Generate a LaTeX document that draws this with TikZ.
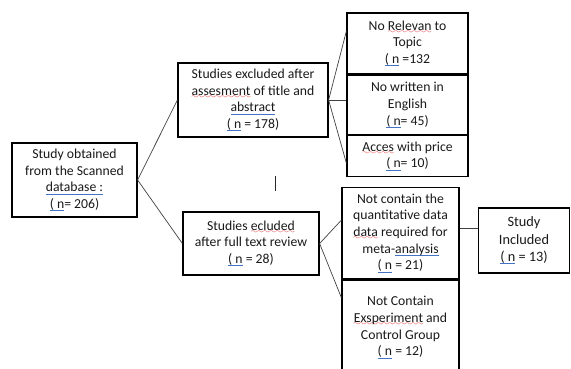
\documentclass[tikz,border=0pt]{standalone}
\usepackage{fontspec}
\setmainfont{Carlito}
\usetikzlibrary{calc}
\definecolor{ulblue}{RGB}{68,114,196}
\definecolor{wavered}{RGB}{230,20,20}
\font\mywavefont=lasy6 scaled 1150
\newlength\ulw
\newcommand\bl[1]{\settowidth\ulw{#1}\rlap{\textcolor{ulblue}{\rule[-2.6pt]{\ulw}{0.9pt}}}#1}
\newcommand\rw[1]{\settowidth\ulw{#1}\rlap{\hbox to \ulw{\color{wavered}\xleaders\hbox{\lower3.4pt\hbox{\mywavefont\char58}}\hfill}}#1}
\tikzset{
  boxnode/.style={draw=black, line width=1.2pt, inner sep=0pt, align=center,
    font=\fontsize{13.7}{16.7}\selectfont, text=black!90},
  link/.style={draw=black!75, line width=0.7pt}
}
\begin{document}
\begin{tikzpicture}[x=1pt,y=-1pt]
\useasboundingbox (0,0) rectangle (571,369);
\node[boxnode, minimum width=125pt, minimum height=74pt] (A) at (74.5,180)
  {Study obtained\\from the Scanned\\\bl{database :}\\\bl{( n}= 206)};
\node[boxnode, minimum width=150pt, minimum height=74pt] (B) at (253,100)
  {Studies excluded after\\\rw{assesment} of title and\\\bl{abstract}\\\bl{( n} = 178)};
\node[boxnode, minimum width=136pt, minimum height=63pt] (C) at (251,243.5)
  {Studies \rw{ecluded}\\after full text review\\\bl{( n} = 28)};
\node[boxnode, minimum width=121pt, minimum height=61pt] (D1) at (407.5,43.5)
  {No \rw{Relevan} to\\Topic\\\bl{( n} =132};
\node[boxnode, minimum width=121pt, minimum height=59pt] (D2) at (407.5,105)
  {No written in\\English\\\bl{( n}= 45)};
\node[boxnode, minimum width=121pt, minimum height=41pt] (D3) at (407.5,156)
  {\rw{Acces} with price\\\bl{( n}= 10)};
\node[boxnode, minimum width=117pt, minimum height=91pt] (E1) at (400.5,233)
  {Not contain the\\quantitative data\\\rw{data} required for\\meta-\bl{analysis}\\\bl{( n} = 21)};
\node[boxnode, minimum width=117pt, minimum height=95pt] (E2) at (400.5,327.5)
  {Not Contain\\\rw{Exsperiment} and\\Control Group\\\bl{( n} = 12)};
\node[boxnode, minimum width=91pt, minimum height=65pt,
  font=\fontsize{14.3}{17.5}\selectfont] (F) at (524,240.5)
  {Study\\Included\\\bl{( n} = 13)};
% connectors
\draw[link] (A.east) -- (B.west);
\draw[link] (A.east) -- (C.west);
\draw[link] (B.east) -- ($(D1.north west)!0.3!(D1.south west)$);
\draw[link] (B.east) -- (B.east -| D2.west);
\draw[link] (B.east) -- ($(D3.north west)!0.67!(D3.south west)$);
\draw[link] (C.east) -- ($(E1.north west)!0.36!(E1.south west)$);
\draw[link] (C.east) -- ($(E2.north west)!0.19!(E2.south west)$);
\coordinate (e1r) at ($(E1.north east)!0.445!(E1.south east)$);
\draw[link] (e1r) -- (e1r -| F.west);
% stray text cursor
\coordinate (cur) at (275,176);
\draw[line width=1pt, black!85] (cur) -- ++(0,15);
\end{tikzpicture}
\end{document}
